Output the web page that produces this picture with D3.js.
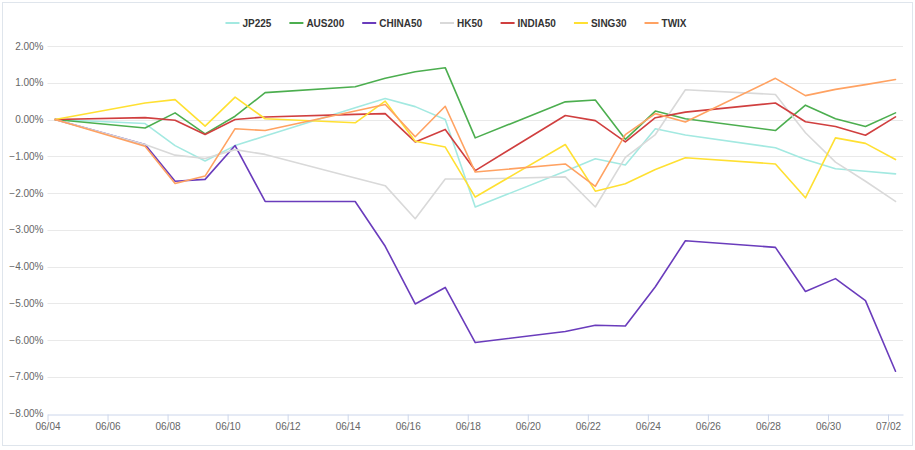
<!DOCTYPE html>
<html>
<head>
<meta charset="utf-8">
<script src="https://cdn.jsdelivr.net/npm/d3@7/dist/d3.min.js"></script>
<style>
  html, body { margin: 0; padding: 0; background: #fff; }
  svg { display: block; }
</style>
</head>
<body>
<svg id="chart" width="915" height="450"></svg>
<script>
// ---- data ----
const dates = ["2021-06-04","2021-06-07","2021-06-08","2021-06-09","2021-06-10","2021-06-11",
  "2021-06-14","2021-06-15","2021-06-16","2021-06-17","2021-06-18",
  "2021-06-21","2021-06-22","2021-06-23","2021-06-24","2021-06-25",
  "2021-06-28","2021-06-29","2021-06-30","2021-07-01","2021-07-02"];
const seriesNames = ["JP225","AUS200","CHINA50","HK50","INDIA50","SING30","TWIX"];
const seriesColors = ["#a3e9e1","#4cae4f","#6a3cbc","#d9d9d9","#d03f3f","#ffe032","#ffa262"];
const JP225   = [0, -0.11, -0.71, -1.13, -0.71, -0.45, 0.32, 0.57, 0.35, 0.00, -2.38, -1.41, -1.07, -1.24, -0.25, -0.42, -0.77, -1.09, -1.34, -1.41, -1.48];
const AUS200  = [0, -0.23, 0.18, -0.39, 0.09, 0.73, 0.89, 1.12, 1.30, 1.41, -0.50, 0.48, 0.53, -0.54, 0.23, 0.02, -0.30, 0.39, 0.02, -0.19, 0.18];
const CHINA50 = [0, -0.68, -1.68, -1.63, -0.71, -2.23, -2.23, -3.45, -5.02, -4.57, -6.07, -5.77, -5.60, -5.62, -4.55, -3.30, -3.48, -4.68, -4.33, -4.93, -6.85];
const HK50    = [0, -0.68, -0.97, -1.06, -0.82, -0.95, -1.59, -1.80, -2.70, -1.62, -1.62, -1.56, -2.38, -1.03, -0.41, 0.81, 0.68, -0.36, -1.16, -1.68, -2.23];
const INDIA50 = [0, 0.05, -0.02, -0.41, 0.00, 0.07, 0.14, 0.16, -0.61, -0.27, -1.39, 0.11, -0.03, -0.61, 0.05, 0.20, 0.45, -0.06, -0.19, -0.43, 0.07];
const SING30  = [0, 0.45, 0.54, -0.18, 0.61, 0.02, -0.09, 0.50, -0.59, -0.75, -2.11, -0.68, -1.95, -1.75, -1.36, -1.04, -1.21, -2.13, -0.50, -0.65, -1.09];
const TWIX    = [0, -0.73, -1.74, -1.54, -0.25, -0.30, 0.23, 0.41, -0.47, 0.36, -1.43, -1.21, -1.82, -0.41, 0.16, -0.07, 1.12, 0.65, 0.82, 0.95, 1.09];
const seriesValues = [JP225, AUS200, CHINA50, HK50, INDIA50, SING30, TWIX];
const yTicks = [2, 1, 0, -1, -2, -3, -4, -5, -6, -7, -8];
const xTickStart = "2021-06-04", xTickEnd = "2021-07-02", xTickStepDays = 2;

// ---- layout ----
const svg = d3.select("#chart");
const W = 915, H = 450;
const plot = { left: 47.5, right: 903, top: 46, bottom: 413.5 };
const font = "'Liberation Sans', Arial, sans-serif";

// outer border
svg.append("rect").attr("x", 2.5).attr("y", 2.5).attr("width", W - 5).attr("height", H - 7)
  .attr("fill", "#fff").attr("stroke", "#dfe5ec").attr("stroke-width", 1);

const parse = d3.utcParse("%Y-%m-%d");
const pointTime = s => d3.utcHour.offset(parse(s), 6);
const x = d3.scaleUtc()
  .domain([parse(xTickStart), d3.utcHour.offset(parse(xTickEnd), 12.5)])
  .range([plot.left, plot.right]);
const y = d3.scaleLinear().domain([-8, 2]).range([plot.bottom, plot.top]);

// gridlines
svg.append("g").selectAll("line").data(yTicks.filter(v => v !== -8)).join("line")
  .attr("x1", plot.left).attr("x2", plot.right)
  .attr("y1", d => Math.round(y(d)) + 0.5).attr("y2", d => Math.round(y(d)) + 0.5)
  .attr("stroke", "#e9e9e9").attr("stroke-width", 1);

// y labels
svg.append("g").selectAll("text").data(yTicks).join("text")
  .attr("x", plot.left - 4).attr("y", d => y(d) + 3.5)
  .attr("text-anchor", "end").attr("fill", "#666")
  .style("font-family", font).style("font-size", "10px")
  .text(d => d3.format(".2f")(d) + "%");

// x axis
const xTickVals = d3.utcDay.range(parse(xTickStart), d3.utcDay.offset(parse(xTickEnd), 1), xTickStepDays);
const xAxis = d3.axisBottom(x).tickValues(xTickVals).tickFormat(d3.utcFormat("%m/%d")).tickSize(7).tickSizeOuter(0);
const gx = svg.append("g").attr("transform", `translate(0,${Math.round(plot.bottom) + 0.5})`).call(xAxis);
gx.select(".domain").attr("stroke", "#ccd6eb");
gx.selectAll(".tick line").attr("stroke", "#ccd6eb");
gx.selectAll(".tick text").attr("fill", "#666").attr("dy", "0.55em")
  .style("font-family", font).style("font-size", "10px");

// lines
const line = d3.line().x(d => x(d.t)).y(d => y(d.v));
seriesNames.forEach((name, i) => {
  const pts = dates.map((s, j) => ({ t: pointTime(s), v: seriesValues[i][j] }));
  svg.append("path").datum(pts).attr("d", line)
    .attr("fill", "none").attr("stroke", seriesColors[i]).attr("stroke-width", 1.6)
    .attr("stroke-linejoin", "round").attr("stroke-linecap", "round");
});

// legend
const lg = svg.append("g");
let cx = 0;
const gap = 18;
seriesNames.forEach((name, i) => {
  const g = lg.append("g");
  g.append("line").attr("x1", 0).attr("x2", 14).attr("y1", 0).attr("y2", 0)
    .attr("stroke", seriesColors[i]).attr("stroke-width", 2);
  const t = g.append("text").attr("x", 17).attr("y", 3.6).attr("fill", "#333")
    .style("font-family", font).style("font-size", "10px").style("font-weight", "bold").text(name);
  const w = 17 + t.node().getComputedTextLength();
  g.attr("transform", `translate(${cx},0)`);
  cx += w + gap;
});
const total = cx - gap;
lg.attr("transform", `translate(${456 - total / 2},23)`);
</script>
</body>
</html>
